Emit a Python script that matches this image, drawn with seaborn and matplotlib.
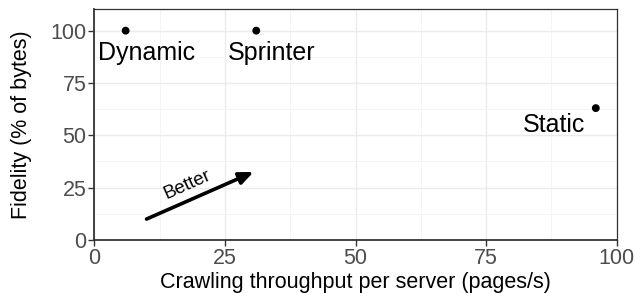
import matplotlib
matplotlib.use("Agg")
import matplotlib.pyplot as plt
import seaborn as sns
import pandas as pd
from matplotlib.ticker import MultipleLocator

systems = ["Dynamic", "Sprinter", "Static"]
throughput = [6, 31, 96]
fidelity = [100, 100, 63]
label_x = [10.0, 34.0, 88.0]
label_y = [89.5, 89.5, 54.8]

arrow_start = (10, 10)
arrow_end = (30.5, 32.5)
arrow_text = "Better"
arrow_text_pos = (17.9, 26.5)

sns.set_theme(style="white")
plt.rcParams["font.family"] = ["Liberation Sans", "DejaVu Sans"]

df = pd.DataFrame({"system": systems, "x": throughput, "y": fidelity})

fig = plt.figure(figsize=(6.36, 2.93), dpi=100)
ax = fig.add_axes([94.3 / 636, 1 - 240 / 293, (616.7 - 94.3) / 636, (240 - 9.3) / 293])

sns.scatterplot(data=df, x="x", y="y", ax=ax, color="black", s=32, edgecolor="none", zorder=5)

for name, lx, ly in zip(systems, label_x, label_y):
    ax.text(lx, ly, name, ha="center", va="center", fontsize=18, color="black", zorder=6)

ax.annotate("", xy=arrow_end, xytext=arrow_start,
            arrowprops=dict(arrowstyle="-|>,head_length=0.7,head_width=0.3", color="black",
                            lw=2.6, shrinkA=0, shrinkB=0), zorder=6)
ax.text(arrow_text_pos[0], arrow_text_pos[1], arrow_text, rotation=24, ha="center", va="center",
        fontsize=13.5, color="black", rotation_mode="anchor")

ax.set_xlim(0, 100)
ax.set_ylim(0, 110.2)
ax.xaxis.set_major_locator(MultipleLocator(25))
ax.yaxis.set_major_locator(MultipleLocator(25))
ax.xaxis.set_minor_locator(MultipleLocator(12.5))
ax.yaxis.set_minor_locator(MultipleLocator(12.5))
ax.grid(which="major", color="#EBEBEB", lw=1.0)
ax.grid(which="minor", color="#F2F2F2", lw=0.6)
ax.set_axisbelow(True)

for side in ["top", "right"]:
    ax.spines[side].set_color("#333333")
    ax.spines[side].set_linewidth(0.9)
for side in ["left", "bottom"]:
    ax.spines[side].set_color("#333333")
    ax.spines[side].set_linewidth(1.3)

ax.tick_params(which="major", direction="out", length=4, width=1.0, color="#333333",
               labelsize=15.5, labelcolor="#4D4D4D", pad=1.5, left=True, bottom=True)
ax.tick_params(which="minor", length=0)

ax.set_xlabel("Crawling throughput per server (pages/s)", fontsize=15.5, color="black", labelpad=2.5)
ax.set_ylabel("Fidelity (% of bytes)", fontsize=15.5, color="black", labelpad=13)

fig.savefig("out.png", dpi=100, facecolor="white")
